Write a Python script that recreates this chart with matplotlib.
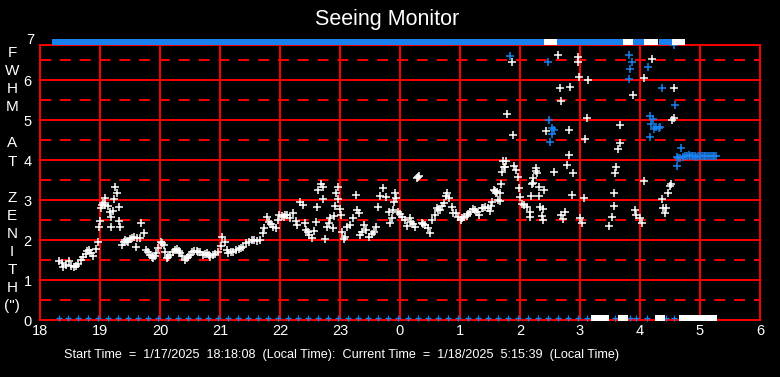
import numpy as np
import matplotlib
matplotlib.use('Agg')
import matplotlib.pyplot as plt

plt.rcParams['font.family'] = ['Liberation Sans', 'DejaVu Sans']

# ---- data (hours since midnight of start day, FWHM arcsec) ----
white_t = [18.32, 18.36, 18.39, 18.44, 18.49, 18.52, 18.56, 18.60, 18.64, 18.68,
           18.72, 18.76, 18.79, 18.81, 18.85, 18.89, 18.93, 18.97, 18.99, 19.00,
           19.02, 19.03, 19.05, 19.08, 19.09, 19.14, 19.16, 19.18, 19.19, 19.22,
           19.23, 19.25, 19.28, 19.31, 19.32, 19.33, 19.36, 19.40, 19.42, 19.45,
           19.47, 19.50, 19.53, 19.57, 19.60, 19.61, 19.66, 19.69, 19.73, 19.77,
           19.80, 19.83, 19.86, 19.89, 19.92, 19.94, 19.97, 20.01, 20.03, 20.07,
           20.08, 20.11, 20.14, 20.17, 20.22, 20.25, 20.28, 20.31, 20.33, 20.37,
           20.42, 20.45, 20.47, 20.50, 20.53, 20.57, 20.61, 20.64, 20.67, 20.72,
           20.75, 20.78, 20.81, 20.84, 20.89, 20.92, 20.97, 21.01, 21.04, 21.08,
           21.11, 21.14, 21.18, 21.22, 21.26, 21.31, 21.35, 21.39, 21.44, 21.48,
           21.53, 21.57, 21.61, 21.67, 21.71, 21.73, 21.78, 21.82, 21.85, 21.88,
           21.93, 21.96, 21.99, 22.03, 22.06, 22.09, 22.12, 22.17, 22.22, 22.27,
           22.29, 22.33, 22.38, 22.42, 22.43, 22.46, 22.49, 22.54, 22.56, 22.60,
           22.62, 22.64, 22.68, 22.71, 22.72, 22.75, 22.78, 22.81, 22.83, 22.88,
           22.90, 22.92, 22.94, 22.96, 22.97, 23.00, 23.01, 23.03, 23.06, 23.08,
           23.12, 23.16, 23.21, 23.26, 23.28, 23.32, 23.34, 23.37, 23.40, 23.44,
           23.49, 23.53, 23.56, 23.60, 23.64, 23.67, 23.72, 23.77, 23.81, 23.83,
           23.86, 23.89, 23.90, 23.92, 23.94, 23.97, 24.00, 24.03, 24.08, 24.11,
           24.16, 24.19, 24.22, 24.25, 24.28, 24.30, 24.32, 24.36, 24.39, 24.42,
           24.47, 24.50, 24.53, 24.58, 24.61, 24.64, 24.67, 24.70, 24.73, 24.76,
           24.78, 24.82, 24.86, 24.89, 24.93, 24.97, 25.01, 25.03, 25.06, 25.11,
           25.14, 25.17, 25.22, 25.25, 25.28, 25.32, 25.36, 25.39, 25.42, 25.47,
           25.50, 25.52, 25.54, 25.56, 25.58, 25.60, 25.61, 25.64, 25.66, 25.67,
           25.69, 25.70, 25.72, 25.73, 25.75, 25.77, 25.79, 25.87, 25.89, 25.90,
           25.94, 25.97, 25.99, 26.00, 26.03, 26.06, 26.11, 26.16, 26.17, 26.19,
           26.20, 26.21, 26.22, 26.26, 26.27, 26.29, 26.31, 26.32, 26.34, 26.36,
           26.38, 26.39, 26.40, 26.43, 26.57, 26.64, 26.66, 26.68, 26.69, 26.72,
           26.75, 26.79, 26.81, 26.82, 26.83, 26.87, 26.89, 26.96, 26.97, 26.99,
           27.00, 27.03, 27.07, 27.08, 27.12, 27.14, 27.49, 27.53, 27.56, 27.57,
           27.58, 27.60, 27.64, 27.66, 27.67, 27.89, 27.91, 27.93, 28.00, 28.04,
           28.06, 28.07, 28.20, 28.37, 28.39, 28.42, 28.43, 28.46, 28.50, 28.51,
           28.54, 28.56, 28.57]
white_v = [1.48, 1.42, 1.33, 1.38, 1.48, 1.36, 1.33, 1.36, 1.40, 1.50,
           1.58, 1.66, 1.72, 1.76, 1.68, 1.60, 1.77, 1.94, 2.33, 2.48,
           2.80, 2.88, 2.92, 2.88, 3.04, 2.86, 2.71, 2.33, 2.58, 2.73,
           3.02, 3.32, 3.17, 2.82, 2.47, 2.33, 1.88, 1.95, 2.00, 1.98,
           1.96, 2.02, 2.04, 2.08, 1.82, 2.04, 2.04, 2.42, 2.17, 1.75,
           1.70, 1.63, 1.58, 1.54, 1.60, 1.67, 1.80, 1.96, 1.92, 1.88,
           1.71, 1.54, 1.58, 1.63, 1.71, 1.75, 1.77, 1.72, 1.67, 1.60,
           1.50, 1.55, 1.57, 1.63, 1.69, 1.72, 1.73, 1.70, 1.69, 1.63,
           1.65, 1.67, 1.62, 1.57, 1.63, 1.65, 1.71, 1.85, 2.07, 1.96,
           1.75, 1.68, 1.70, 1.71, 1.74, 1.77, 1.80, 1.82, 1.92, 1.96,
           2.00, 1.99, 1.98, 2.00, 2.17, 2.29, 2.58, 2.46, 2.40, 2.33,
           2.29, 2.50, 2.63, 2.60, 2.58, 2.62, 2.63, 2.54, 2.67, 2.48,
           2.38, 2.96, 2.88, 2.43, 2.25, 2.20, 2.13, 2.04, 2.23, 2.46,
           2.83, 3.25, 3.40, 3.32, 3.02, 2.02, 2.33, 2.43, 2.54, 2.29,
           2.60, 2.85, 3.17, 3.32, 3.02, 2.77, 2.63, 2.21, 2.02, 2.08,
           2.33, 2.38, 2.54, 3.12, 2.75, 2.67, 2.13, 2.20, 2.38, 2.25,
           2.08, 2.15, 2.21, 2.33, 2.82, 3.10, 3.29, 3.08, 2.71, 2.42,
           2.54, 2.75, 2.96, 3.17, 3.04, 2.71, 2.65, 2.58, 2.50, 2.35,
           2.54, 2.46, 2.40, 2.32, 3.54, 3.58, 3.60, 2.42, 2.40, 2.38,
           2.29, 2.18, 2.50, 2.63, 2.79, 2.75, 2.75, 2.85, 2.93, 3.10,
           3.17, 3.04, 2.83, 2.68, 2.67, 2.57, 2.50, 2.55, 2.58, 2.60,
           2.65, 2.71, 2.77, 2.75, 2.71, 2.63, 2.79, 2.80, 2.83, 2.79,
           2.73, 2.85, 2.96, 3.25, 3.23, 3.17, 3.21, 3.00, 2.98, 3.17,
           3.40, 3.69, 3.98, 3.82, 3.83, 3.98, 5.14, 6.46, 4.62, 3.85,
           3.75, 3.57, 3.29, 3.08, 2.90, 2.88, 2.83, 2.71, 2.57, 3.10,
           3.40, 3.42, 3.54, 3.73, 3.79, 3.67, 3.32, 3.10, 2.83, 2.60,
           2.50, 2.77, 3.25, 4.73, 3.69, 6.63, 5.79, 5.48, 2.63, 2.53,
           2.71, 3.88, 4.13, 4.75, 5.82, 3.13, 3.67, 6.57, 6.46, 6.08,
           2.54, 2.42, 3.04, 4.52, 5.04, 6.00, 2.35, 2.57, 2.85, 3.17,
           3.67, 3.83, 4.27, 4.42, 4.88, 5.63, 2.75, 2.63, 2.54, 2.43,
           3.48, 6.04, 6.52, 3.02, 2.79, 2.67, 2.79, 3.17, 3.35, 3.40,
           5.00, 5.04, 5.79]

blue_t = [25.84, 26.47, 26.49, 26.50, 26.53, 26.54, 26.57, 27.81, 27.82, 27.83,
          27.86, 28.14, 28.16, 28.17, 28.19, 28.21, 28.23, 28.27, 28.31, 28.34,
          28.37, 28.57, 28.59, 28.61, 28.62, 28.64, 28.67, 28.69, 28.72, 28.75,
          28.78, 28.81, 28.83, 28.86, 28.89, 28.92, 28.94, 28.97, 29.00, 29.03,
          29.06, 29.09, 29.12, 29.15, 29.18, 29.21, 29.24, 29.27]
blue_v = [6.60, 6.44, 5.00, 4.44, 4.65, 4.79, 4.75, 6.63, 6.02, 6.27,
          6.44, 6.32, 5.10, 4.57, 4.89, 5.02, 4.77, 4.83, 4.81, 4.82,
          5.79, 6.88, 5.37, 4.08, 3.85, 4.05, 4.06, 4.29, 4.08, 4.10,
          4.11, 4.12, 4.11, 4.10, 4.11, 4.10, 4.08, 4.10, 4.10, 4.10,
          4.10, 4.10, 4.10, 4.10, 4.10, 4.10, 4.10, 4.10]

# off-scale readings (drawn on the top edge / bottom edge)
top_blue_t = [18.28, 18.45, 18.62, 18.78, 18.95, 19.12, 19.28, 19.45, 19.62, 19.78,
              19.95, 20.12, 20.28, 20.45, 20.62, 20.78, 20.95, 21.12, 21.28, 21.45,
              21.62, 21.78, 21.95, 22.12, 22.28, 22.45, 22.62, 22.78, 22.95, 23.12,
              23.28, 23.45, 23.62, 23.78, 23.95, 24.12, 24.28, 24.45, 24.62, 24.78,
              24.95, 25.12, 25.28, 25.45, 25.62, 25.78, 25.95, 26.12, 26.28, 26.42,
              26.60, 26.77, 26.93, 27.10, 27.27, 27.43, 27.60, 27.73, 27.90, 28.04,
              28.40, 28.50]
top_white_t = [26.49, 26.53, 27.80, 28.15, 28.22, 28.61, 28.66]
bot_blue_t = [18.31, 18.47, 18.64, 18.80, 18.97, 19.14, 19.30, 19.47, 19.64, 19.80,
              19.97, 20.14, 20.30, 20.47, 20.64, 20.80, 20.97, 21.14, 21.30, 21.47,
              21.64, 21.80, 21.97, 22.14, 22.30, 22.47, 22.64, 22.80, 22.97, 23.14,
              23.30, 23.47, 23.64, 23.80, 23.97, 24.14, 24.30, 24.47, 24.64, 24.80,
              24.97, 25.14, 25.30, 25.47, 25.64, 25.80, 25.97, 26.14, 26.30, 26.47,
              26.64, 26.80, 26.97, 27.11, 27.58, 27.83, 27.94, 28.11, 28.44, 28.56]
bot_white_t = [27.26, 27.40, 27.72, 28.33, 28.73, 28.88, 29.03, 29.16, 29.20]

xticks = list(range(18, 31))
xlabels = [str(h % 24) for h in xticks]
ylabel_letters = ['F', 'W', 'H', 'M', '', 'A', 'T', '', 'Z', 'E', 'N', 'I', 'T', 'H', '(")']

W, H = 780, 377
fig = plt.figure(figsize=(W / 100, H / 100), dpi=100, facecolor='black')
ax = fig.add_axes([40 / W, 57 / H, 720 / W, 275 / H], facecolor='black')

red = '#ff0000'
blue = '#1a82f0'
ytop = 6.875

for y in range(1, 7):
    ax.axhline(y, color=red, lw=1.4, zorder=1)
for y in np.arange(0.5, 7, 1.0):
    ax.axhline(y, color=red, lw=1.4, linestyle=(0, (5.6, 4.6)), zorder=1)
for x in xticks[1:-1]:
    ax.axvline(x, color=red, lw=1.4, zorder=1)

ax.plot(white_t, white_v, linestyle='none', marker='+', color='white',
        markersize=6, markeredgewidth=1.1, zorder=3)
ax.plot(blue_t, blue_v, linestyle='none', marker='+', color=blue,
        markersize=6, markeredgewidth=1.1, zorder=3)

block = [(-4.5, -2.8), (4.5, -2.8), (4.5, 2.8), (-4.5, 2.8), (-4.5, -2.8)]
ax.plot(top_blue_t, [6.95] * len(top_blue_t), linestyle='none', marker=block,
        color=blue, markersize=7, markeredgewidth=0, clip_on=False, zorder=4)
ax.plot(top_white_t, [6.95] * len(top_white_t), linestyle='none', marker=block,
        color='white', markersize=7, markeredgewidth=0, clip_on=False, zorder=4)
ax.plot(bot_blue_t, [0.05] * len(bot_blue_t), linestyle='none', marker='+',
        color=blue, markersize=4, markeredgewidth=0.9, clip_on=False, zorder=4)
ax.plot(bot_white_t, [0.05] * len(bot_white_t), linestyle='none', marker=block,
        color='white', markersize=7, markeredgewidth=0, clip_on=False, zorder=4)

ax.set_xlim(18, 30)
ax.set_ylim(0, ytop)
ax.set_xticks(xticks)
ax.set_xticklabels(xlabels)
ax.set_yticks(range(0, 7))
ax.tick_params(colors='white', length=0, labelsize=10.5, pad=3)
ax.tick_params(axis='y', pad=6)
ax.text(-0.0083, 7, '7', transform=ax.get_yaxis_transform(), ha='right',
        va='center', color='white', fontsize=10.5, clip_on=False)
for sp in ax.spines.values():
    sp.set_color(red)
    sp.set_linewidth(1.4)
    sp.set_zorder(2)

for i, ch in enumerate(ylabel_letters):
    if ch:
        fig.text(12 / W, 1 - (53 + i * 18.1) / H, ch, color='white', fontsize=11,
                 ha='center', va='center')

fig.text(387 / W, 1 - 20 / H, 'Seeing Monitor', color='white', fontsize=15.5,
         ha='center', va='center')
fig.text(342 / W, 1 - 355 / H,
         'Start Time  =  1/17/2025  18:18:08  (Local Time):  Current Time  =  1/18/2025  5:15:39  (Local Time)',
         color='white', fontsize=9.1, ha='center', va='center')

fig.savefig('out.png', dpi=100, facecolor='black')
